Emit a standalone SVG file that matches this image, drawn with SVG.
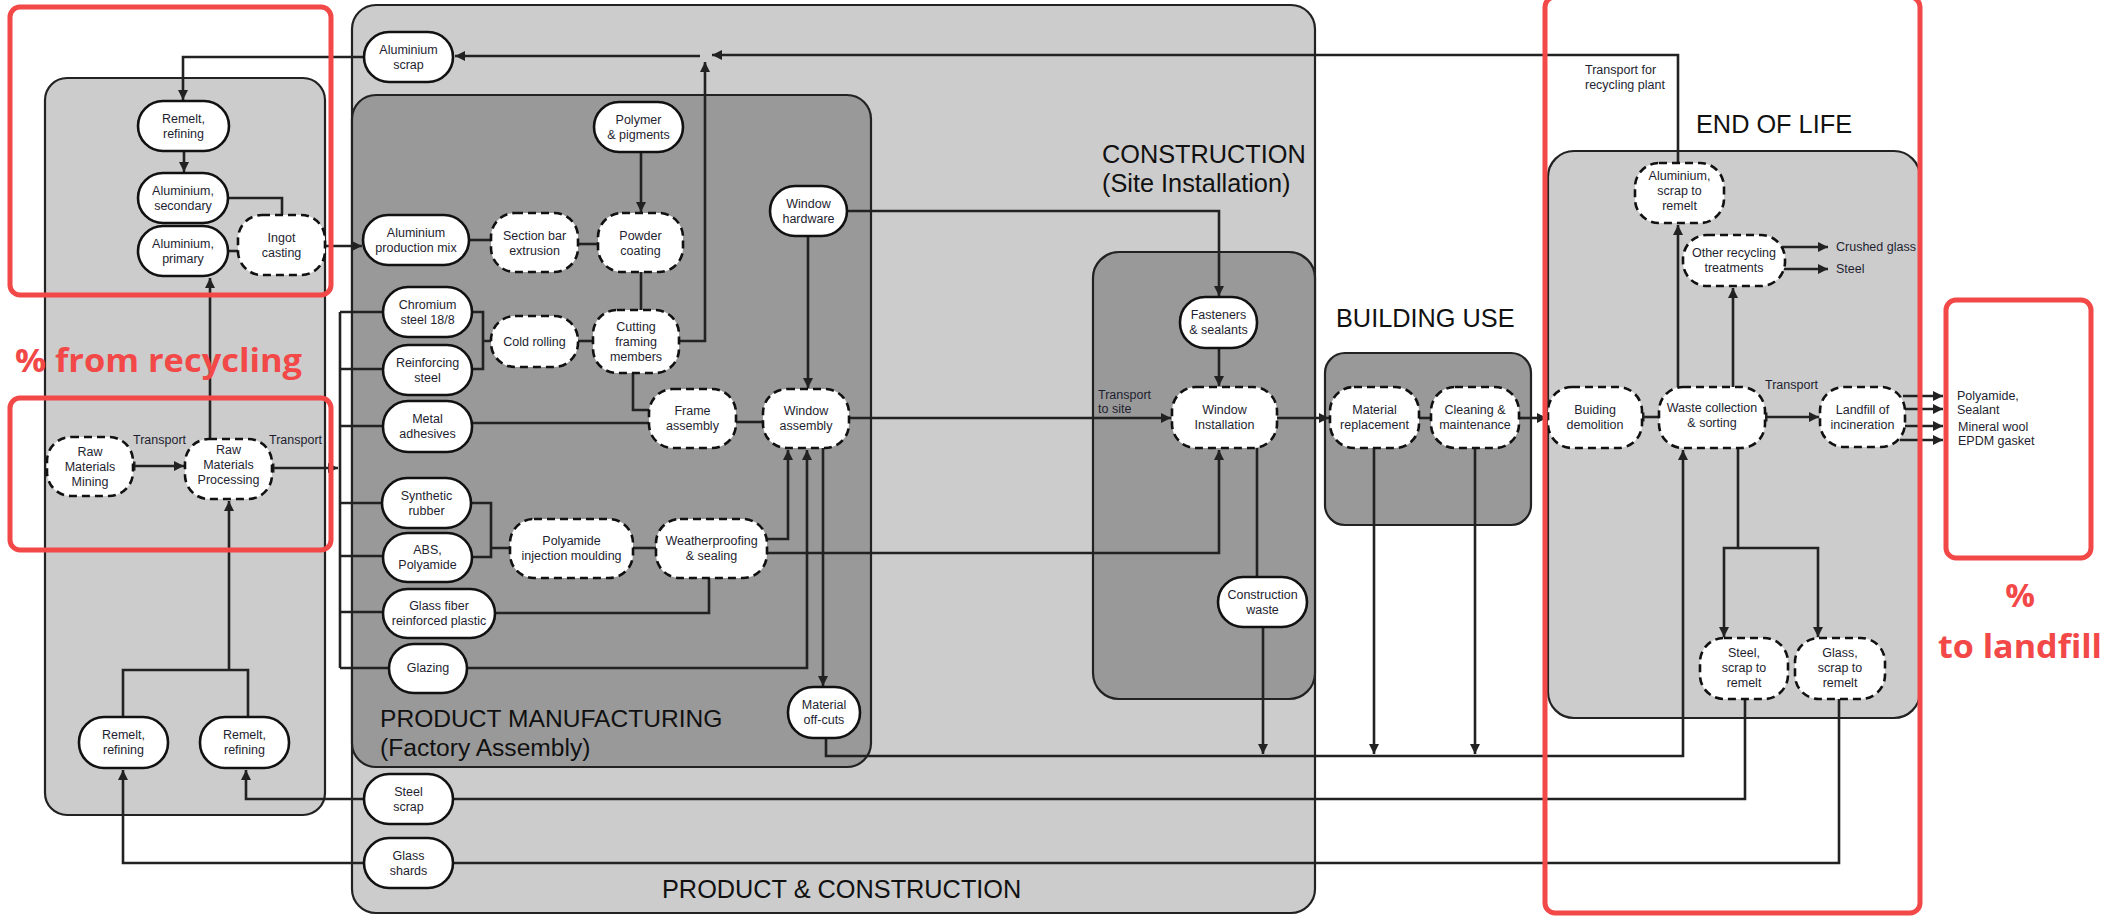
<svg xmlns="http://www.w3.org/2000/svg" width="2123" height="916" viewBox="0 0 2123 916">
<defs>
<marker id="arr" viewBox="0 0 10 10" refX="10" refY="5" markerWidth="11" markerHeight="10" markerUnits="userSpaceOnUse" orient="auto">
<path d="M0,0 L10,5 L0,10 z" fill="#222"/>
</marker>
<marker id="tick" viewBox="0 0 4 12" refX="2" refY="6" markerWidth="3" markerHeight="10" markerUnits="userSpaceOnUse" orient="auto">
<rect x="0" y="0" width="4" height="12" fill="#222"/>
</marker>
<style>
.pl{stroke:#222;stroke-width:2.2}
.p1{fill:#cccccc}
.p2{fill:#999999}
.c{fill:none;stroke:#222;stroke-width:2.6;stroke-linejoin:miter}
.a{marker-end:url(#arr)}
.n rect{fill:#fff;stroke:#111;stroke-width:2.6}
.d rect{stroke-dasharray:8 5}
text{font-family:"Liberation Sans",Arial,sans-serif}
.n text,.lb{font-size:12.5px;fill:#1e1e30;text-anchor:middle}
.lb{text-anchor:start}
.tt{font-size:25.3px;fill:#111}
.tm{font-size:24.6px}
.red{fill:none;stroke:#f24848;stroke-width:5}
.rt{font-family:"Open Sans","Liberation Sans",sans-serif;font-weight:700;fill:#f24848;font-size:33px}
</style>
</defs>
<rect width="2123" height="916" fill="#fff"/>

<g id="panels">
<rect id="panel-raw" class="pl p1" x="45" y="78" width="280" height="737" rx="22"/>
<rect id="panel-pc" class="pl p1" x="352" y="5" width="963" height="908" rx="24"/>
<rect id="panel-pm" class="pl p2" x="352" y="95" width="519" height="672" rx="24"/>
<rect id="panel-con" class="pl p2" x="1093" y="252" width="222" height="447" rx="26"/>
<rect id="panel-use" class="pl p2" x="1325" y="353" width="206" height="172" rx="20"/>
<rect id="panel-eol" class="pl p1" x="1548" y="151" width="372" height="567" rx="26"/>
<text class="tt tm" x="380" y="727">PRODUCT MANUFACTURING</text>
<text class="tt tm" x="380" y="756">(Factory Assembly)</text>
<text class="tt" x="662" y="898">PRODUCT &amp; CONSTRUCTION</text>
<text class="tt" x="1102" y="163">CONSTRUCTION</text>
<text class="tt" x="1102" y="192">(Site Installation)</text>
<text class="tt" x="1336" y="327">BUILDING USE</text>
<text class="tt" x="1696" y="133">END OF LIFE</text>
</g>

<g id="connectors">
<path class="c a" d="M1678,163 V55 H712"/>
<path class="c a" d="M679,341 H705 V62"/>
<path class="c a" d="M700,56 H455"/>
<path class="c a" d="M364,57 H183 V100"/>
<path class="c a" d="M184,151 V172"/>
<path class="c" d="M228,198 H282 V215"/>
<path class="c" d="M228,251 H238"/>
<path class="c a" d="M325,246 H362"/>
<path class="c a" d="M210,439 V278"/>
<path class="c a" style="marker-start:url(#tick)" d="M134,466 H184"/>
<path class="c a" style="marker-start:url(#tick)" d="M273,468 H338"/>
<path class="c" d="M340,312 V668"/>
<path class="c" d="M340,312 H383 M340,369 H383 M340,426 H383 M340,503 H382 M340,556 H383 M340,612 H383 M340,668 H389"/>
<path class="c" d="M123,717 V670 H248 V717"/>
<path class="c a" d="M229,670 V501"/>
<path class="c a" d="M364,863 H123 V770"/>
<path class="c a" d="M364,799 H246 V770"/>
<path class="c" d="M469,240 H491"/>
<path class="c" d="M578,244 H598"/>
<path class="c a" d="M641,152 V212"/>
<path class="c" d="M641,272 V310"/>
<path class="c" d="M472,312 H483 V369 H472 M483,341 H491"/>
<path class="c" d="M578,341 H593"/>
<path class="c" d="M633,373 V410 H649"/>
<path class="c" d="M472,423 H649"/>
<path class="c" d="M736,422 H763"/>
<path class="c a" d="M808,236 V388"/>
<path class="c a" d="M847,211 H1219 V296"/>
<path class="c" d="M471,503 H491 V557 H472 M491,548 H510"/>
<path class="c" d="M633,548 H656"/>
<path class="c a" d="M767,539 H788 V450"/>
<path class="c a" d="M767,553 H1219 V450"/>
<path class="c" d="M709,578 V613 H495"/>
<path class="c a" d="M467,668 H807 V450"/>
<path class="c a" d="M823,448 V686"/>
<path class="c a" d="M826,738 V756 H1683 V450"/>
<path class="c a" d="M849,418 H1171"/>
<path class="c a" d="M1219,348 V386"/>
<path class="c a" d="M1277,418 H1329"/>
<path class="c" d="M1257,448 V577"/>
<path class="c a" d="M1263,627 V754"/>
<path class="c" d="M1419,418 H1431"/>
<path class="c a" d="M1519,418 H1547"/>
<path class="c a" d="M1374,448 V754"/>
<path class="c a" d="M1475,448 V754"/>
<path class="c" style="marker-start:url(#tick)" d="M1643,417 H1659"/>
<path class="c a" d="M1678,387 V225"/>
<path class="c a" d="M1733,387 V288"/>
<path class="c a" d="M1783,247 H1828"/>
<path class="c a" d="M1783,269 H1828"/>
<path class="c a" style="marker-start:url(#tick)" d="M1766,417 H1819"/>
<path class="c a" d="M1903,396 H1943"/>
<path class="c a" d="M1905,409 H1943"/>
<path class="c a" d="M1905,426 H1943"/>
<path class="c a" d="M1900,440 H1943"/>
<path class="c a" d="M1738,448 V548 H1724 V637"/>
<path class="c a" d="M1738,548 H1818 V637"/>
<path class="c" d="M1745,699 V799 H453"/>
<path class="c" d="M1839,699 V863 H453"/>
<text class="lb" x="133" y="444">Transport</text>
<text class="lb" x="269" y="444">Transport</text>
<text class="lb" x="1098" y="399">Transport</text>
<text class="lb" x="1098" y="413">to site</text>
<text class="lb" x="1585" y="74">Transport for</text>
<text class="lb" x="1585" y="89">recycling plant</text>
<text class="lb" x="1765" y="389">Transport</text>
<text class="lb" x="1836" y="251">Crushed glass</text>
<text class="lb" x="1836" y="273">Steel</text>
<text class="lb" x="1957" y="400">Polyamide,</text>
<text class="lb" x="1957" y="414">Sealant</text>
<text class="lb" x="1958" y="431">Mineral wool</text>
<text class="lb" x="1958" y="445">EPDM gasket</text>
</g>

<g id="n-remelt-top" class="n"><rect x="138" y="101" width="91" height="50" rx="25"/><text x="183.5" y="123">Remelt,</text><text x="183.5" y="138">refining</text></g>
<g id="n-al-secondary" class="n"><rect x="138" y="173" width="90" height="50" rx="25"/><text x="183" y="195">Aluminium,</text><text x="183" y="210">secondary</text></g>
<g id="n-al-primary" class="n"><rect x="138" y="226" width="90" height="50" rx="25"/><text x="183" y="248">Aluminium,</text><text x="183" y="263">primary</text></g>
<g id="n-ingot" class="n d"><rect x="238" y="215" width="87" height="60" rx="24"/><text x="281.5" y="242">Ingot</text><text x="281.5" y="257">casting</text></g>
<g id="n-mining" class="n d"><rect x="47" y="437" width="86" height="59" rx="24"/><text x="90" y="456">Raw</text><text x="90" y="471">Materials</text><text x="90" y="486">Mining</text></g>
<g id="n-processing" class="n d"><rect x="185" y="439" width="87" height="60" rx="24"/><text x="228.5" y="454">Raw</text><text x="228.5" y="469">Materials</text><text x="228.5" y="484">Processing</text></g>
<g id="n-remelt-1" class="n"><rect x="79" y="717" width="89" height="51" rx="25"/><text x="123.5" y="739">Remelt,</text><text x="123.5" y="754">refining</text></g>
<g id="n-remelt-2" class="n"><rect x="200" y="717" width="89" height="51" rx="25"/><text x="244.5" y="739">Remelt,</text><text x="244.5" y="754">refining</text></g>

<g id="n-al-scrap" class="n"><rect x="364" y="32" width="89" height="50" rx="25"/><text x="408.5" y="54">Aluminium</text><text x="408.5" y="69">scrap</text></g>
<g id="n-steel-scrap" class="n"><rect x="364" y="774" width="89" height="50" rx="25"/><text x="408.5" y="796">Steel</text><text x="408.5" y="811">scrap</text></g>
<g id="n-glass-shards" class="n"><rect x="364" y="838" width="89" height="50" rx="25"/><text x="408.5" y="860">Glass</text><text x="408.5" y="875">shards</text></g>

<g id="n-polymer" class="n"><rect x="594" y="102" width="89" height="50" rx="25"/><text x="638.5" y="124">Polymer</text><text x="638.5" y="139">&amp; pigments</text></g>
<g id="n-al-prod" class="n"><rect x="363" y="215" width="106" height="50" rx="25"/><text x="416" y="237">Aluminium</text><text x="416" y="252">production mix</text></g>
<g id="n-section" class="n d"><rect x="491" y="213" width="87" height="59" rx="24"/><text x="534.5" y="240">Section bar</text><text x="534.5" y="255">extrusion</text></g>
<g id="n-powder" class="n d"><rect x="598" y="213" width="85" height="59" rx="24"/><text x="640.5" y="240">Powder</text><text x="640.5" y="255">coating</text></g>
<g id="n-window-hw" class="n"><rect x="770" y="186" width="77" height="50" rx="25"/><text x="808.5" y="208">Window</text><text x="808.5" y="223">hardware</text></g>
<g id="n-chromium" class="n"><rect x="383" y="287" width="89" height="50" rx="25"/><text x="427.5" y="309">Chromium</text><text x="427.5" y="324">steel 18/8</text></g>
<g id="n-reinforcing" class="n"><rect x="383" y="345" width="89" height="50" rx="25"/><text x="427.5" y="367">Reinforcing</text><text x="427.5" y="382">steel</text></g>
<g id="n-cold" class="n d"><rect x="491" y="316" width="87" height="51" rx="24"/><text x="534.5" y="346">Cold rolling</text></g>
<g id="n-cutting" class="n d"><rect x="593" y="310" width="86" height="63" rx="24"/><text x="636" y="331">Cutting</text><text x="636" y="346">framing</text><text x="636" y="361">members</text></g>
<g id="n-metal" class="n"><rect x="383" y="401" width="89" height="51" rx="25"/><text x="427.5" y="423">Metal</text><text x="427.5" y="438">adhesives</text></g>
<g id="n-frame" class="n d"><rect x="649" y="389" width="87" height="59" rx="24"/><text x="692.5" y="415">Frame</text><text x="692.5" y="430">assembly</text></g>
<g id="n-window-asm" class="n d"><rect x="763" y="389" width="86" height="59" rx="24"/><text x="806" y="415">Window</text><text x="806" y="430">assembly</text></g>
<g id="n-synthetic" class="n"><rect x="382" y="478" width="89" height="50" rx="25"/><text x="426.5" y="500">Synthetic</text><text x="426.5" y="515">rubber</text></g>
<g id="n-abs" class="n"><rect x="383" y="533" width="89" height="49" rx="24.5"/><text x="427.5" y="554">ABS,</text><text x="427.5" y="569">Polyamide</text></g>
<g id="n-polyamide" class="n d"><rect x="510" y="519" width="123" height="59" rx="24"/><text x="571.5" y="545">Polyamide</text><text x="571.5" y="560">injection moulding</text></g>
<g id="n-weather" class="n d"><rect x="656" y="519" width="111" height="59" rx="24"/><text x="711.5" y="545">Weatherproofing</text><text x="711.5" y="560">&amp; sealing</text></g>
<g id="n-glassfiber" class="n"><rect x="383" y="589" width="112" height="49" rx="24.5"/><text x="439" y="610">Glass fiber</text><text x="439" y="625">reinforced plastic</text></g>
<g id="n-glazing" class="n"><rect x="389" y="644" width="78" height="49" rx="24.5"/><text x="428" y="672">Glazing</text></g>
<g id="n-offcuts" class="n"><rect x="788" y="687" width="72" height="51" rx="25"/><text x="824" y="709">Material</text><text x="824" y="724">off-cuts</text></g>

<g id="n-fasteners" class="n"><rect x="1180" y="297" width="77" height="51" rx="25"/><text x="1218.5" y="319">Fasteners</text><text x="1218.5" y="334">&amp; sealants</text></g>
<g id="n-win-install" class="n d"><rect x="1172" y="387" width="105" height="61" rx="24"/><text x="1224.5" y="414">Window</text><text x="1224.5" y="429">Installation</text></g>
<g id="n-constr-waste" class="n"><rect x="1218" y="577" width="89" height="50" rx="25"/><text x="1262.5" y="599">Construction</text><text x="1262.5" y="614">waste</text></g>

<g id="n-mat-repl" class="n d"><rect x="1330" y="387" width="89" height="61" rx="24"/><text x="1374.5" y="414">Material</text><text x="1374.5" y="429">replacement</text></g>
<g id="n-cleaning" class="n d"><rect x="1431" y="387" width="88" height="61" rx="24"/><text x="1475" y="414">Cleaning &amp;</text><text x="1475" y="429">maintenance</text></g>

<g id="n-demolition" class="n d"><rect x="1548" y="387" width="94" height="61" rx="24"/><text x="1595" y="414">Buiding</text><text x="1595" y="429">demolition</text></g>
<g id="n-waste" class="n d"><rect x="1659" y="387" width="106" height="61" rx="24"/><text x="1712" y="412">Waste collection</text><text x="1712" y="427">&amp; sorting</text></g>
<g id="n-al-remelt" class="n d"><rect x="1635" y="163" width="89" height="60" rx="24"/><text x="1679.5" y="180">Aluminium,</text><text x="1679.5" y="195">scrap to</text><text x="1679.5" y="210">remelt</text></g>
<g id="n-other" class="n d"><rect x="1683" y="235" width="102" height="51" rx="24"/><text x="1734" y="257">Other recycling</text><text x="1734" y="272">treatments</text></g>
<g id="n-landfill" class="n d"><rect x="1820" y="387" width="85" height="60" rx="24"/><text x="1862.5" y="414">Landfill of</text><text x="1862.5" y="429">incineration</text></g>
<g id="n-steel-remelt" class="n d"><rect x="1700" y="638" width="88" height="61" rx="24"/><text x="1744" y="657">Steel,</text><text x="1744" y="672">scrap to</text><text x="1744" y="687">remelt</text></g>
<g id="n-glass-remelt" class="n d"><rect x="1795" y="638" width="90" height="61" rx="24"/><text x="1840" y="657">Glass,</text><text x="1840" y="672">scrap to</text><text x="1840" y="687">remelt</text></g>

<g id="highlights">
<rect class="red" x="10" y="7" width="321" height="288" rx="10"/>
<rect class="red" x="10" y="398" width="321" height="152" rx="10"/>
<rect class="red" x="1545" y="-3" width="375" height="916" rx="10"/>
<rect class="red" x="1946" y="300" width="145" height="258" rx="10"/>
<text class="rt" x="15" y="372" textLength="287" lengthAdjust="spacingAndGlyphs">% from recycling</text>
<text class="rt" x="2020" y="607" text-anchor="middle">%</text>
<text class="rt" x="1938" y="658" textLength="164" lengthAdjust="spacingAndGlyphs">to landfill</text>
</g>
</svg>
